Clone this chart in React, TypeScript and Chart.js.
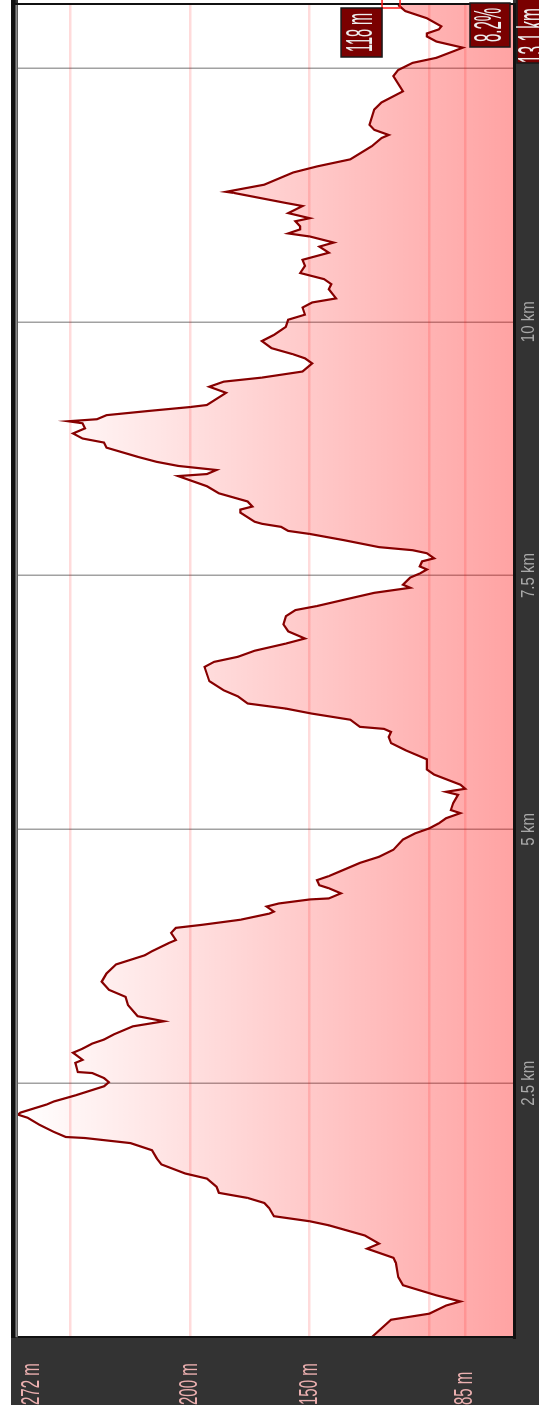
import React, { useEffect, useRef } from 'react';
import { Chart, registerables } from 'chart.js';

Chart.register(...registerables);

// ---- data (distance along the route, elevation) ----
const distanceKm = [
  0.0, 0.17, 0.23, 0.31, 0.35, 0.41, 0.51, 0.59, 0.73, 0.78, 0.87, 0.92, 1.0, 1.1, 1.14, 1.19, 1.27, 1.32, 1.37, 1.42,
  1.48, 1.56, 1.61, 1.7, 1.76, 1.84, 1.91, 1.96, 1.97, 2.02, 2.09, 2.16, 2.19, 2.21, 2.29, 2.32, 2.38, 2.47, 2.51, 2.55,
  2.6, 2.61, 2.7, 2.73, 2.8, 2.84, 2.89, 2.93, 2.98, 3.06, 3.11, 3.16, 3.27, 3.35, 3.42, 3.5, 3.58, 3.67, 3.76, 3.8,
  3.88, 3.91, 3.98, 4.03, 4.06, 4.11, 4.17, 4.19, 4.24, 4.27, 4.31, 4.32, 4.37, 4.42, 4.45, 4.5, 4.54, 4.6, 4.67, 4.73,
  4.8, 4.9, 4.96, 5.01, 5.06, 5.11, 5.16, 5.19, 5.26, 5.34, 5.37, 5.4, 5.44, 5.54, 5.59, 5.69, 5.78, 5.85, 5.91, 5.96,
  5.99, 6.01, 6.08, 6.14, 6.19, 6.24, 6.31, 6.37, 6.46, 6.6, 6.65, 6.7, 6.76, 6.83, 6.88, 6.95, 7.02, 7.1, 7.16, 7.2,
  7.26, 7.33, 7.38, 7.41, 7.48, 7.52, 7.56, 7.59, 7.64, 7.67, 7.72, 7.75, 7.78, 7.85, 7.91, 7.94, 7.98, 8.01, 8.03, 8.12,
  8.15, 8.18, 8.23, 8.31, 8.38, 8.48, 8.5, 8.54, 8.58, 8.62, 8.67, 8.76, 8.81, 8.85, 8.9, 8.95, 9.0, 9.02, 9.04, 9.08,
  9.12, 9.16, 9.18, 9.3, 9.36, 9.41, 9.45, 9.51, 9.59, 9.64, 9.68, 9.74, 9.81, 9.87, 9.95, 10.02, 10.07, 10.14, 10.19, 10.23,
  10.32, 10.37, 10.42, 10.48, 10.55, 10.61, 10.68, 10.74, 10.78, 10.84, 10.87, 10.91, 10.94, 10.99, 11.02, 11.07, 11.14, 11.17, 11.27, 11.28,
  11.35, 11.47, 11.53, 11.6, 11.73, 11.81, 11.84, 11.89, 11.94, 12.09, 12.16, 12.27, 12.42, 12.48, 12.55, 12.6, 12.7, 12.76, 12.81, 12.84,
  12.88, 12.91, 12.99, 13.06, 13.12,
];
const elevationM = [
  124, 116, 100, 93, 87, 97, 111, 113, 114, 115, 126, 121, 127, 142, 150, 165, 167, 169, 176, 188,
  189, 193, 202, 212, 214, 216, 225, 244, 252, 257, 263, 268, 272, 271, 260, 257, 248, 236, 234, 236,
  241, 247, 248, 245, 249, 245, 241, 236, 232, 224, 211, 222, 226, 227, 234, 237, 235, 231, 219, 216,
  209, 206, 208, 206, 195, 179, 167, 165, 168, 163, 150, 142, 137, 142, 146, 147, 142, 136, 129, 121,
  115, 111, 106, 100, 96, 93, 87, 91, 90, 88, 93, 85, 87, 98, 101, 101, 110, 116, 117, 116,
  119, 129, 133, 149, 160, 176, 180, 186, 192, 194, 190, 180, 173, 160, 152, 159, 161, 160, 156, 147,
  136, 123, 108, 111, 108, 104, 101, 104, 103, 98, 101, 107, 121, 136, 150, 159, 162, 170, 173, 179,
  179, 174, 176, 188, 193, 205, 193, 189, 205, 214, 222, 235, 236, 245, 249, 244, 245, 251, 239, 235,
  218, 200, 193, 185, 192, 186, 170, 153, 149, 152, 157, 166, 170, 165, 160, 159, 152, 153, 149, 139,
  142, 141, 144, 154, 152, 153, 142, 146, 140, 150, 159, 154, 154, 156, 150, 159, 153, 160, 182, 185,
  169, 157, 147, 133, 124, 120, 117, 123, 125, 123, 120, 111, 115, 113, 107, 97, 86, 97, 101, 101,
  96, 95, 101, 110, 113,
];

// ---- axes ----
const elevationMin = 65;
const elevationMax = 272;
const xGridKm = [0, 2.5, 5, 7.5, 10, 12.5];
const yGridM = [85, 100, 150, 200, 250];
const xLabelKm = [2.5, 5, 7.5, 10];
const yLabelM = [272, 200, 150, 85];

// ---- end-of-route labels ----
const totalDistanceLabel = '13.1 km';
const endElevationLabel = '118 m';
const endGradeLabel = '8.2%';
const endMarkerElevation = 116;

const W = 1405;
const H = 539;
const FONT = '"Liberation Sans", Arial, sans-serif';

function drawText(
  c: CanvasRenderingContext2D,
  s: string,
  x: number,
  y: number,
  size: number,
  sy: number,
  align: CanvasTextAlign,
  color: string,
  weight = 'normal'
) {
  c.save();
  c.translate(x, y);
  c.scale(1, sy);
  c.font = `${weight} ${size}px ${FONT}`;
  c.textAlign = align;
  c.textBaseline = 'middle';
  c.fillStyle = color;
  c.fillText(s, 0, 0);
  c.restore();
}

function drawBox(c: CanvasRenderingContext2D, x: number, y: number, w: number, h: number) {
  c.save();
  c.fillStyle = '#7a0000';
  c.fillRect(x, y, w, h);
  c.strokeStyle = '#1a1a1a';
  c.lineWidth = 1.5;
  c.strokeRect(x, y, w, h);
  c.restore();
}

const framePlugin = {
  id: 'frame',
  beforeDraw(chart: any) {
    const c = chart.ctx as CanvasRenderingContext2D;
    const a = chart.chartArea;
    c.save();
    c.fillStyle = '#333333';
    c.fillRect(0, 0, W, H);
    c.fillStyle = '#ffffff';
    c.fillRect(0, 0, W, 11);
    c.fillRect(a.left, a.top, W - a.left, a.bottom - a.top);
    c.restore();
  },
  afterDraw(chart: any) {
    const c = chart.ctx as CanvasRenderingContext2D;
    const a = chart.chartArea;
    const xs = chart.scales.x;
    const ys = chart.scales.y;
    c.save();
    // plot borders
    c.fillStyle = '#111111';
    c.fillRect(a.left - 1, 11, W - a.left + 1, 4.5);
    c.fillStyle = '#8a8a8a';
    c.fillRect(a.left, 15.5, a.right - a.left, 2);
    c.fillStyle = '#111111';
    c.fillRect(a.left - 2, a.bottom, a.right - a.left + 4, 3);
    c.fillRect(a.left - 1, a.top, 2, a.bottom - a.top);
    c.fillRect(a.right, 11, 2, a.bottom - 11);
    c.restore();

    // elevation labels
    for (const v of yLabelM) {
      let py = ys.getPixelForValue(v);
      py = Math.max(py, a.top + 14);
      drawText(c, `${v} m`, 0, py, 15, 1.75, 'left', '#ecb0b0');
    }
    // distance labels
    for (const v of xLabelKm) {
      const px = xs.getPixelForValue(v);
      drawText(c, `${v} km`, px, 529, 15, 1.25, 'center', '#a9a9a9');
    }

    // end marker
    const mx = xs.getPixelForValue(distanceKm[distanceKm.length - 1]);
    const my = ys.getPixelForValue(endMarkerElevation);
    c.save();
    c.strokeStyle = '#ff1a1a';
    c.lineWidth = 1.5;
    c.strokeRect(mx - 3, my - 9, 18, 18);
    c.restore();

    // elevation box
    drawBox(c, mx - 52, my - 50, 49, 41);
    drawText(c, endElevationLabel, mx - 27.5, my - 29, 14.5, 2.6, 'center', '#eeeeee');
    // grade box
    drawBox(c, mx - 42, a.bottom - 43, 44, 40);
    drawText(c, endGradeLabel, mx - 20, a.bottom - 23, 15, 2.6, 'center', '#eeeeee');
    // total distance box
    drawBox(c, mx - 58, a.bottom + 4, 70, 40);
    drawText(c, totalDistanceLabel, mx - 3, a.bottom + 22, 15.5, 2.6, 'right', '#eeeeee');
  },
};

export default function App() {
  const ref = useRef<HTMLCanvasElement>(null);

  useEffect(() => {
    const canvas = ref.current;
    if (!canvas) return;
    const chart = new Chart(canvas, {
      type: 'line',
      data: {
        datasets: [
          {
            data: distanceKm.map((d, i) => ({ x: d, y: elevationM[i] })),
            borderColor: '#870000',
            borderWidth: 2.2,
            pointRadius: 0,
            tension: 0,
            fill: 'start',
            backgroundColor: (ctx: any) => {
              const a = ctx.chart.chartArea;
              if (!a) return 'rgba(255,0,0,0.2)';
              const g = ctx.chart.ctx.createLinearGradient(0, a.top, 0, a.bottom);
              g.addColorStop(0, 'rgba(255,0,0,0.0)');
              g.addColorStop(1, 'rgba(255,0,0,0.36)');
              return g;
            },
          },
        ],
      },
      options: {
        responsive: false,
        devicePixelRatio: 1,
        animation: false,
        layout: { padding: { left: 68, right: 5, top: 18, bottom: 26 } },
        plugins: { legend: { display: false }, tooltip: { enabled: false } },
        scales: {
          x: {
            type: 'linear',
            min: 0,
            max: distanceKm[distanceKm.length - 1],
            afterBuildTicks: (s: any) => {
              s.ticks = xGridKm.map((v) => ({ value: v }));
            },
            afterFit: (s: any) => {
              s.height = 0;
            },
            ticks: { display: false },
            grid: { color: 'rgba(0,0,0,0.37)', lineWidth: 1.5, drawTicks: false },
            border: { display: false },
          },
          y: {
            type: 'linear',
            min: elevationMin,
            max: elevationMax,
            afterBuildTicks: (s: any) => {
              s.ticks = yGridM.map((v) => ({ value: v }));
            },
            afterFit: (s: any) => {
              s.width = 0;
            },
            ticks: { display: false },
            grid: { color: 'rgba(255,0,0,0.14)', lineWidth: 2.5, drawTicks: false },
            border: { display: false },
          },
        },
      },
      plugins: [framePlugin],
    } as any);
    return () => chart.destroy();
  }, []);

  return (
    <div
      style={{
        position: 'fixed',
        left: 0,
        top: 0,
        width: W,
        height: H,
        transformOrigin: '0 0',
        transform: `translate(0px, ${W}px) rotate(-90deg)`,
      }}
    >
      <canvas ref={ref} width={W} height={H} style={{ display: 'block', width: W, height: H }} />
    </div>
  );
}
